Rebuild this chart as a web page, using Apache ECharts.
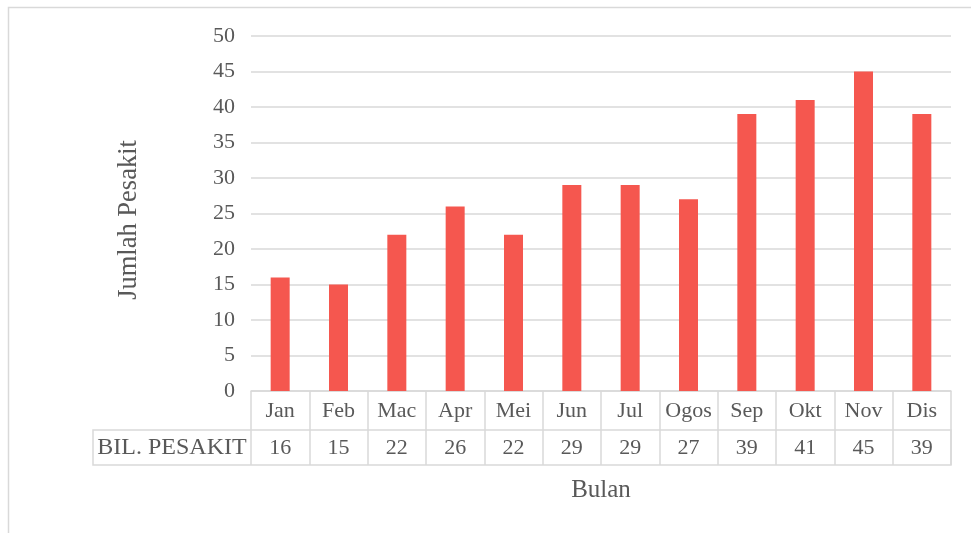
<!DOCTYPE html>
<html>
<head>
<meta charset="utf-8">
<script src="https://cdn.jsdelivr.net/npm/echarts@6/dist/echarts.min.js"></script>
<style>
  html, body { margin: 0; padding: 0; background: #fff; }
  #chart { width: 971px; height: 533px; }
</style>
</head>
<body>
<div id="chart"></div>
<script>
  // data
  var months = ['Jan', 'Feb', 'Mac', 'Apr', 'Mei', 'Jun', 'Jul', 'Ogos', 'Sep', 'Okt', 'Nov', 'Dis']
  var pesakit = [16, 15, 22, 26, 22, 29, 29, 27, 39, 41, 45, 39]
  var yTicks = { min: 0, max: 50, interval: 5 }

  var font = 'Liberation Serif, Times New Roman, serif'
  var txt = '#595959'
  var grey = '#d9d9d9'

  var chart = echarts.init(document.getElementById('chart'))
  var option = {
    animation: false,
    backgroundColor: '#fff',
    grid: { left: 251, right: 20, top: 36, bottom: 142 },
    xAxis: [
      {
        type: 'category',
        data: months,
        axisLine: { lineStyle: { color: grey, width: 1.5 } },
        axisTick: { show: true, interval: 0, length: 74, lineStyle: { color: grey, width: 1.5 } },
        axisLabel: { interval: 0, margin: 9, color: txt, fontFamily: font, fontSize: 22, lineHeight: 22 }
      },
      {
        // baris nilai dalam jadual
        type: 'category',
        position: 'bottom',
        data: pesakit.map(String),
        axisLine: { show: false },
        axisTick: { show: false },
        axisLabel: { interval: 0, margin: 46, color: txt, fontFamily: font, fontSize: 22, lineHeight: 22 },
        name: 'Bulan',
        nameLocation: 'middle',
        nameGap: 87,
        nameTextStyle: { color: txt, fontFamily: font, fontSize: 25 }
      }
    ],
    yAxis: {
      type: 'value',
      min: yTicks.min,
      max: yTicks.max,
      interval: yTicks.interval,
      axisLine: { show: false },
      axisTick: { show: false },
      splitLine: { lineStyle: { color: grey, width: 1.5 } },
      axisLabel: { margin: 16, color: txt, fontFamily: font, fontSize: 22 }
    },
    series: [
      {
        type: 'bar',
        xAxisIndex: 0,
        data: pesakit,
        barWidth: 19,
        itemStyle: { color: '#F5574F' }
      }
    ],
    graphic: [
      {
        type: 'rect',
        silent: true,
        shape: { x: 8.5, y: 7.5, width: 1000, height: 560 },
        style: { fill: null, stroke: grey, lineWidth: 1.5 }
      },
      {
        type: 'rect',
        silent: true,
        shape: { x: 93, y: 430, width: 858, height: 35 },
        style: { fill: null, stroke: grey, lineWidth: 1.5 }
      },
      {
        type: 'text',
        silent: true,
        x: 172,
        y: 448,
        style: {
          text: 'BIL. PESAKIT',
          fill: txt,
          font: '24px ' + font,
          textAlign: 'center',
          textVerticalAlign: 'middle'
        }
      },
      {
        // tajuk paksi Y
        type: 'text',
        silent: true,
        x: 129,
        y: 220,
        rotation: Math.PI / 2,
        style: {
          text: 'Jumlah Pesakit',
          fill: txt,
          font: '26.5px ' + font,
          textAlign: 'center',
          textVerticalAlign: 'middle'
        }
      }
    ]
  }
  chart.setOption(option)
</script>
</body>
</html>
